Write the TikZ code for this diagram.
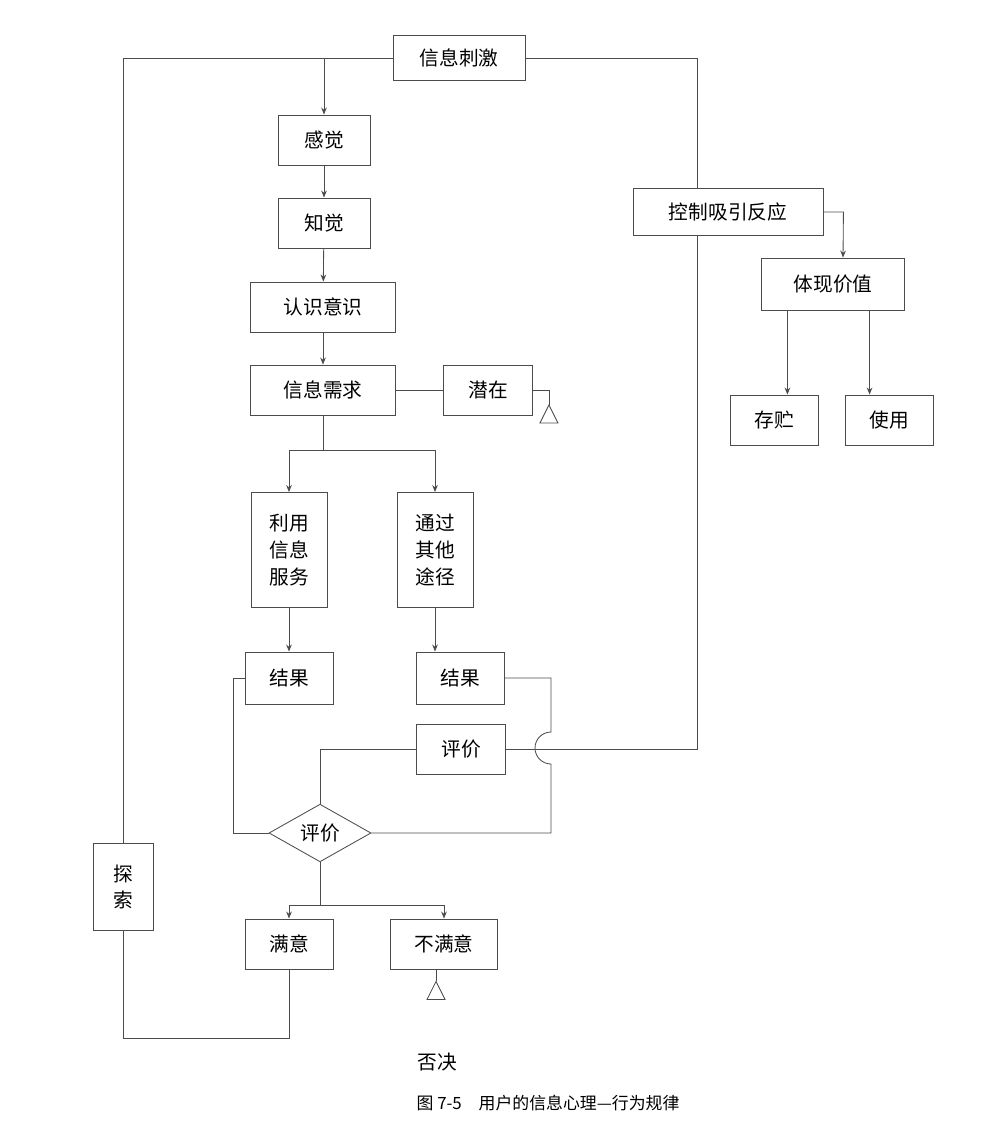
\documentclass[tikz,border=0pt]{standalone}
\usepackage{fontspec}
\setmainfont{Noto Sans CJK SC}
\usetikzlibrary{arrows.meta, shapes.geometric}

\begin{document}
\begin{tikzpicture}[
            x = 0.025cm, y = -0.025cm, % pixel grid of the reference
            > = {Stealth[length=5pt,width=4pt]},
            line width = 0.6pt,
            draw = black!70,
            font = \fontsize{14}{19}\selectfont,
        ]

        \tikzset{
            box/.style = {draw = black!70, line width = 0.6pt, inner sep = 0pt, align = center},
            fork/.style = {draw = black!70, line width = 0.6pt, ->},
            veto/.style = {draw = black!70, line width = 0.6pt}
        }

        \useasboundingbox (0,0) rectangle (999,1142);

        % main column
        \node[box, minimum width = 132*0.025cm, minimum height = 45*0.025cm] (stim) at (459,58) {信息刺激};
        \node[box, minimum width = 92*0.025cm, minimum height = 50*0.025cm] (sense) at (324,140) {感觉};
        \node[box, minimum width = 92*0.025cm, minimum height = 50*0.025cm] (perc) at (324,223) {知觉};
        \node[box, minimum width = 145*0.025cm, minimum height = 50*0.025cm] (cogn) at (323,307) {认识意识};
        \node[box, minimum width = 145*0.025cm, minimum height = 50*0.025cm] (need) at (323,390) {信息需求};
        \node[box, minimum width = 89*0.025cm, minimum height = 50*0.025cm] (latent) at (488,390) {潜在};

        % two ways
        \node[box, minimum width = 76*0.025cm, minimum height = 115*0.025cm] (serv) at (289,550) {利用\\信息\\服务};
        \node[box, minimum width = 76*0.025cm, minimum height = 115*0.025cm] (other) at (435,550) {通过\\其他\\途径};
        \node[box, minimum width = 88*0.025cm, minimum height = 52*0.025cm] (resL) at (289,678) {结果};
        \node[box, minimum width = 88*0.025cm, minimum height = 52*0.025cm] (resR) at (460,678) {结果};
        \node[box, minimum width = 89*0.025cm, minimum height = 50*0.025cm] (evalb) at (461,749) {评价};
        \node[box, diamond, aspect = 1, minimum width = 102*0.025cm] (evald) at (320,833) {评价};

        \node[box, minimum width = 88*0.025cm, minimum height = 50*0.025cm] (sat) at (289,944) {满意};
        \node[box, minimum width = 107*0.025cm, minimum height = 50*0.025cm] (unsat) at (444,944) {不满意};
        \node (deny) at (437,1062) {否决};
        \node[box, minimum width = 60*0.025cm, minimum height = 87*0.025cm] (search) at (123,887) {探\\索};

        % right side
        \node[box, minimum width = 190*0.025cm, minimum height = 47*0.025cm] (ctrl) at (728,212) {控制吸引反应};
        \node[box, minimum width = 143*0.025cm, minimum height = 52*0.025cm] (value) at (833,284) {体现价值};
        \node[box, minimum width = 88*0.025cm, minimum height = 50*0.025cm] (store) at (774,420) {存贮};
        \node[box, minimum width = 88*0.025cm, minimum height = 50*0.025cm] (use) at (889,420) {使用};

        \node[font = \fontsize{12}{14}\selectfont] (cap) at (548,1103) {图 7-5\quad 用户的信息心理—行为规律};

        \coordinate (top) at (324,58);
        \coordinate (split) at (323,450);
        \coordinate (dsplit) at (320,905);
        \coordinate (hop) at (551,749);

        % arrows down the column
        \draw[->] (top) -- (sense);
        \draw[->] (sense) -- (perc);
        \draw[->] (perc) -- (cogn);
        \draw[->] (cogn) -- (need);
        \draw (need) -- (latent);
        \draw (latent.east) -- ++(16,0) |- ++(0,15);
        \draw[veto] (latent.east) ++(16,15) -- ++(-9,18) -- ++(18,0) -- cycle;

        \draw (need.south) -- (split);
        \draw[fork] (split) -| (serv.north);
        \draw[fork] (split) -| (other.north);
        \draw[->] (serv) -- (resL);
        \draw[->] (other.south) -- (other.south |- resR.north);

        % evaluation loops
        \draw (resL.west) -- ++(-11,0) |- (evald.west);
        \draw (resR.east) -- (hop |- resR.east) -- ++(0,54) arc[start angle = 90, end angle = 270, radius = 16*0.025cm] |- (evald.east);
        \draw (evalb.west) -| (evald.north);
        \draw (evalb.east) -- (697,749) -- (ctrl.south -| 697,0);
        \draw (ctrl.north -| 697,0) |- (stim.east);

        \draw (evald.south) -- (dsplit);
        \draw[fork] (dsplit) -| (sat.north);
        \draw[fork] (dsplit) -| (unsat.north);
        \draw (unsat.south) ++(-8,0) coordinate (u) -- ++(0,12);
        \draw[veto] (u) ++(0,12) -- ++(-9,18) -- ++(18,0) -- cycle;

        % search loop
        \draw (stim.west) -| (search.north);
        \draw (search.south) |- (289,1038) -- (sat.south);

        % right branch
        \draw[->] (ctrl.east) -- ++(20,0) -- (value.north -| 843,0);
        \draw[->] (value.south -| store.east) ++(-31,0) coordinate (s1) -- (s1 |- store.north);
        \draw[->] (value.south -| use.west) ++(25,0) coordinate (s2) -- (s2 |- use.north);
    \end{tikzpicture}
\end{document}
